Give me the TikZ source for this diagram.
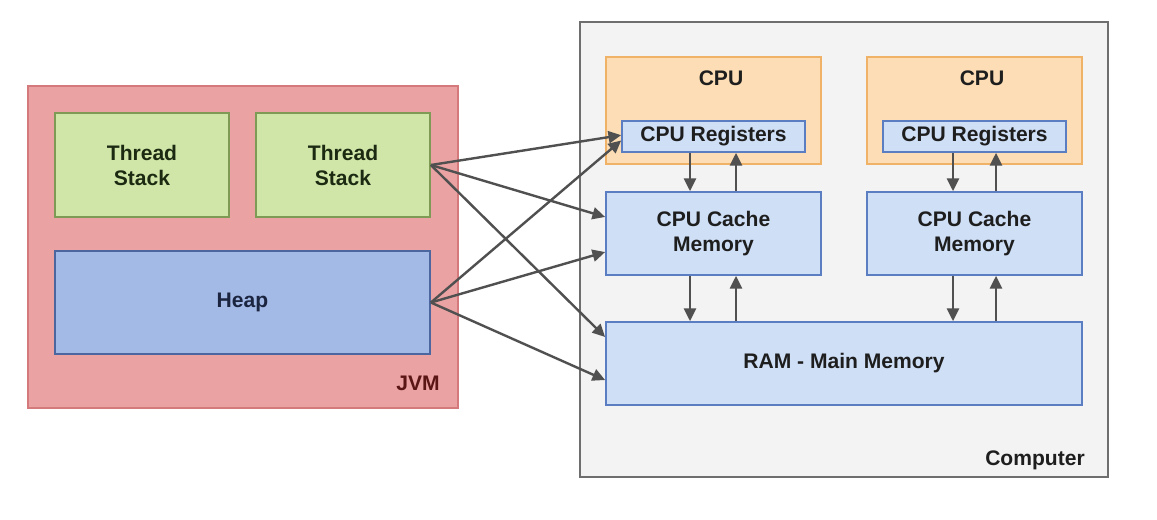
\documentclass[tikz,border=0pt]{standalone}
\usepackage{fontspec}
\setmainfont{Liberation Sans}
\usetikzlibrary{arrows.meta}
\definecolor{jvmfill}{HTML}{EBA2A2}
\definecolor{jvmdraw}{HTML}{D47A7C}
\definecolor{tsfill}{HTML}{D0E6A8}
\definecolor{tsdraw}{HTML}{7F9A55}
\definecolor{heapfill}{HTML}{A3B9E6}
\definecolor{heapdraw}{HTML}{4C66A0}
\definecolor{compfill}{HTML}{F3F3F3}
\definecolor{compdraw}{HTML}{6E6E6E}
\definecolor{cpufill}{HTML}{FCDDB5}
\definecolor{cpudraw}{HTML}{F0B266}
\definecolor{memfill}{HTML}{CFDFF6}
\definecolor{memdraw}{HTML}{5B7DC2}
\definecolor{arrcol}{HTML}{505050}
\definecolor{txt}{HTML}{1E1E1E}
\definecolor{jvmtxt}{HTML}{5A1515}
\definecolor{tstxt}{HTML}{1C2A12}
\definecolor{heaptxt}{HTML}{1C2540}
\begin{document}
\begin{tikzpicture}[x=0.75pt,y=-0.75pt,
  lbl/.style={font=\fontsize{15.8}{18.75}\selectfont\bfseries, text=txt, align=center},
  boxbase/.style={rectangle, inner sep=0pt, line width=1.3pt, lbl},
  jvmbox/.style={boxbase, fill=jvmfill, draw=jvmdraw, line width=1.6pt},
  tsbox/.style={boxbase, fill=tsfill, draw=tsdraw, text=tstxt},
  heapbox/.style={boxbase, fill=heapfill, draw=heapdraw, text=heaptxt},
  compbox/.style={boxbase, fill=compfill, draw=compdraw, line width=1.6pt},
  cpubox/.style={boxbase, fill=cpufill, draw=cpudraw},
  membox/.style={boxbase, fill=memfill, draw=memdraw},
  arr/.style={draw=arrcol, line width=1.8pt, -{Triangle[length=9.5pt,width=9pt]}}
]
\useasboundingbox[fill=white] (0,0) rectangle (1157,519);
% JVM
\node[jvmbox, minimum width=430*0.75pt, minimum height=322*0.75pt] (jvm) at (243,247) {};
\node[lbl, text=jvmtxt] (jvmlbl) at (418,383) {JVM};
\node[tsbox, minimum width=174*0.75pt, minimum height=104*0.75pt] (ts1) at (142,165) {Thread\\Stack};
\node[tsbox, minimum width=174*0.75pt, minimum height=104*0.75pt] (ts2) at (343,165) {Thread\\Stack};
\node[heapbox, minimum width=375*0.75pt, minimum height=103*0.75pt] (heap) at (242.5,302.5) {Heap};
% Computer
\node[compbox, minimum width=528*0.75pt, minimum height=455*0.75pt] (comp) at (844,249.5) {};
\node[lbl] (complbl) at (1035,460) {Computer};
\node[cpubox, minimum width=215*0.75pt, minimum height=107*0.75pt] (cpu1) at (713.5,110.5) {};
\node[cpubox, minimum width=215*0.75pt, minimum height=107*0.75pt] (cpu2) at (974.5,110.5) {};
\node[lbl] (cpu1lbl) at (721,78) {CPU};
\node[lbl] (cpu2lbl) at (982,78) {CPU};
\node[membox, minimum width=183*0.75pt, minimum height=31*0.75pt] (reg1) at (713.5,136.5) {CPU Registers};
\node[membox, minimum width=183*0.75pt, minimum height=31*0.75pt] (reg2) at (974.5,136.5) {CPU Registers};
\node[membox, minimum width=215*0.75pt, minimum height=83*0.75pt] (cache1) at (713.5,233.5) {CPU Cache\\Memory};
\node[membox, minimum width=215*0.75pt, minimum height=83*0.75pt] (cache2) at (974.5,233.5) {CPU Cache\\Memory};
\node[membox, minimum width=476*0.75pt, minimum height=83*0.75pt] (ram) at (844,363.5) {RAM - Main Memory};
% x positions of vertical arrows
\coordinate (d1) at (690,0);
\coordinate (u1) at (736,0);
\coordinate (d2) at (953,0);
\coordinate (u2) at (996,0);
\draw[arr] (reg1.south -| d1) -- (cache1.north -| d1);
\draw[arr] (cache1.north -| u1) -- (reg1.south -| u1);
\draw[arr] (cache1.south -| d1) -- (ram.north -| d1);
\draw[arr] (ram.north -| u1) -- (cache1.south -| u1);
\draw[arr] (reg2.south -| d2) -- (cache2.north -| d2);
\draw[arr] (cache2.north -| u2) -- (reg2.south -| u2);
\draw[arr] (cache2.south -| d2) -- (ram.north -| d2);
\draw[arr] (ram.north -| u2) -- (cache2.south -| u2);
% diagonal arrows
\draw[arr] (ts2.east) -- ([yshift=1pt]reg1.west);
\draw[arr] (ts2.east) -- ([yshift=12.4pt]cache1.west);
\draw[arr] (ts2.east) -- ([yshift=19.9pt]ram.west);
\draw[arr] (heap.east) -- ([yshift=-3pt]reg1.west);
\draw[arr] (heap.east) -- ([yshift=-13.9pt]cache1.west);
\draw[arr] (heap.east) -- ([yshift=-12.4pt]ram.west);
\end{tikzpicture}
\end{document}
